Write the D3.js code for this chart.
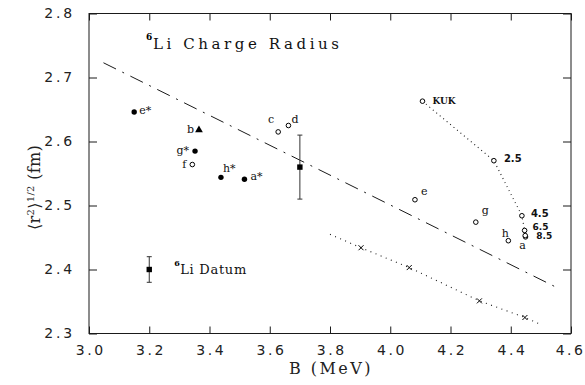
<!DOCTYPE html>
<html>
<head>
<meta charset="utf-8">
<script src="https://cdn.jsdelivr.net/npm/d3@7"></script>
<style>
  body { margin: 0; background: #fff; }
</style>
</head>
<body>
<div id="chart"></div>
<script>
// starred fits (filled circles)
const filledNames = ["e*", "g*", "h*", "a*"];
const filledB = [3.15, 3.352, 3.438, 3.516];
const filledR = [2.646, 2.585, 2.544, 2.541];

// filled triangle
const triNames = ["b"];
const triB = [3.365];
const triR = [2.618];

// open circles
const openNames = ["f", "c", "d", "e", "g", "h", "a"];
const openB = [3.343, 3.628, 3.662, 4.082, 4.284, 4.392, 4.449];
const openR = [2.564, 2.615, 2.625, 2.509, 2.474, 2.445, 2.451];

// KUK sequence (dotted)
const kukNames = ["KUK", "2.5", "4.5", "6.5", "8.5"];
const kukB = [4.107, 4.344, 4.437, 4.446, 4.448];
const kukR = [2.663, 2.570, 2.484, 2.461, 2.453];

// crosses and their dotted line
const crossB = [3.903, 4.063, 4.296, 4.447];
const crossR = [2.434, 2.403, 2.351, 2.325];
const crossLineB = [3.80, 3.903, 4.063, 4.296, 4.447, 4.50];
const crossLineR = [2.455, 2.434, 2.403, 2.351, 2.325, 2.314];

// dash-dot line
const fitB = [3.048, 4.552];
const fitR = [2.723, 2.372];

// 6Li datum and legend sample
const datumB = 3.70, datumR = 2.56, datumErr = 0.05;
const legendB = 3.20, legendR = 2.40, legendErr = 0.02;

const xTicks = [3.0, 3.2, 3.4, 3.6, 3.8, 4.0, 4.2, 4.4, 4.6];
const yTicks = [2.3, 2.4, 2.5, 2.6, 2.7, 2.8];

const svgWidth = 585, svgHeight = 385;
const margin = { top: 13.5, right: 14, bottom: 51.5, left: 89 };
const width = svgWidth - margin.left - margin.right;
const height = svgHeight - margin.top - margin.bottom;

// label placement: [dx, dy, anchor]
const labelPos = {
    "e*": [5, 2, "start"], "g*": [-6, 3, "end"], "h*": [2, -5, "start"], "a*": [6, 1, "start"],
    "b": [-5, 3, "end"], "f": [-6, 3, "end"], "c": [-7, -9, "middle"], "d": [3, -3, "start"],
    "e": [6, -5, "start"], "g": [6, -8, "start"], "h": [-3, -4, "middle"], "a": [-3, 12, "middle"],
    "KUK": [10, 3, "start"], "2.5": [10, 1, "start"], "4.5": [9, 1, "start"],
    "6.5": [8, -0.5, "start"], "8.5": [11, 3.5, "start"]
};

const x = d3.scaleLinear().domain([3.0, 4.6]).range([0, width]);
const y = d3.scaleLinear().domain([2.3, 2.8]).range([height, 0]);

const svg = d3.select("#chart")
    .append("svg")
    .attr("width", svgWidth)
    .attr("height", svgHeight)
    .append("g")
    .attr("transform", `translate(${margin.left},${margin.top})`);

const ink = "#1a1a1a";

// inner ticks on all four sides
svg.append("g")
    .attr("transform", `translate(0,${height})`)
    .call(d3.axisBottom(x).tickValues(xTicks).tickSizeInner(-7).tickSizeOuter(0).tickPadding(12)
        .tickFormat(d3.format(".1f")))
    .call(g => g.select(".domain").remove())
    .call(g => g.selectAll("line").attr("stroke", ink))
    .call(g => g.selectAll("text")
        .style("font-family", "DejaVu Sans").style("font-size", "14px")
        .style("letter-spacing", "2.5px").attr("fill", "#222")
        .attr("dx", (d, i) => i === xTicks.length - 1 ? "-1px" : "1.2px"));

svg.append("g")
    .call(d3.axisLeft(y).tickValues(yTicks).tickSizeInner(-8).tickSizeOuter(0).tickPadding(14)
        .tickFormat(d3.format(".1f")))
    .call(g => g.select(".domain").remove())
    .call(g => g.selectAll("line").attr("stroke", ink))
    .call(g => g.selectAll("text")
        .style("font-family", "DejaVu Sans").style("font-size", "14px")
        .style("letter-spacing", "2.8px").attr("fill", "#222"));

svg.append("g")
    .call(d3.axisTop(x).tickValues(xTicks).tickSizeInner(-7).tickSizeOuter(0).tickFormat(""))
    .call(g => g.select(".domain").remove())
    .call(g => g.selectAll("line").attr("stroke", ink));

svg.append("g")
    .attr("transform", `translate(${width},0)`)
    .call(d3.axisRight(y).tickValues(yTicks).tickSizeInner(-8).tickSizeOuter(0).tickFormat(""))
    .call(g => g.select(".domain").remove())
    .call(g => g.selectAll("line").attr("stroke", ink));

svg.append("rect")
    .attr("width", width)
    .attr("height", height)
    .attr("fill", "none")
    .attr("stroke", ink)
    .attr("stroke-width", 1);

// axis titles
svg.append("text")
    .attr("x", width / 2 + 1)
    .attr("y", height + 40)
    .attr("text-anchor", "middle")
    .style("font-family", "DejaVu Serif")
    .style("font-size", "16px")
    .style("letter-spacing", "2.5px")
    .attr("fill", "#222")
    .text("B (MeV)");

const yTitle = svg.append("text")
    .attr("transform", `translate(${-margin.left + 40},${height / 2 + 14}) rotate(-90)`)
    .attr("text-anchor", "middle")
    .style("font-family", "DejaVu Serif")
    .style("font-size", "16px")
    .style("letter-spacing", "0.3px")
    .attr("fill", "#222");
yTitle.append("tspan").text("\u27E8r");
yTitle.append("tspan").attr("dy", -6).style("font-size", "10px").text("2");
yTitle.append("tspan").attr("dy", 6).text("\u27E9");
yTitle.append("tspan").attr("dy", -6).style("font-size", "10px").text("1/2");
yTitle.append("tspan").attr("dy", 6).text(" (fm)");

// chart title
svg.append("text")
    .attr("x", 57)
    .attr("y", 26)
    .style("font-family", "DejaVu Serif")
    .style("font-size", "9px")
    .style("font-weight", "bold")
    .text("6");
svg.append("text")
    .attr("x", 64)
    .attr("y", 35)
    .attr("textLength", 186)
    .attr("lengthAdjust", "spacing")
    .style("font-family", "DejaVu Serif")
    .style("font-size", "15px")
    .attr("fill", "#111")
    .text("Li Charge Radius");

// dash-dot line
const line = d3.line().x(d => x(d[0])).y(d => y(d[1]));
svg.append("path")
    .datum(fitB.map((b, i) => [b, fitR[i]]))
    .attr("d", line)
    .attr("fill", "none")
    .attr("stroke", ink)
    .attr("stroke-width", 1)
    .attr("stroke-dasharray", "14,7,2,7");

// dotted lines
svg.append("path")
    .datum(kukB.map((b, i) => [b, kukR[i]]))
    .attr("d", line)
    .attr("fill", "none")
    .attr("stroke", ink)
    .attr("stroke-width", 1.1)
    .attr("stroke-dasharray", "1,3.5");

svg.append("path")
    .datum(crossLineB.map((b, i) => [b, crossLineR[i]]))
    .attr("d", line)
    .attr("fill", "none")
    .attr("stroke", ink)
    .attr("stroke-width", 1.1)
    .attr("stroke-dasharray", "1,4.5");

function addLabel(name, px, py, font, size, weight) {
    const p = labelPos[name];
    svg.append("text")
        .attr("x", px + p[0])
        .attr("y", py + p[1])
        .attr("text-anchor", p[2])
        .style("font-family", font)
        .style("font-size", size)
        .style("font-weight", weight || "normal")
        .attr("fill", "#111")
        .text(name);
}

// filled circles
filledB.forEach((b, i) => {
    svg.append("circle")
        .attr("cx", x(b)).attr("cy", y(filledR[i])).attr("r", 2.7)
        .attr("fill", "#000");
    addLabel(filledNames[i], x(b), y(filledR[i]), "DejaVu Serif", "11px");
});

// triangle
triB.forEach((b, i) => {
    svg.append("path")
        .attr("transform", `translate(${x(b)},${y(triR[i])})`)
        .attr("d", d3.symbol(d3.symbolTriangle, 26)())
        .attr("fill", "#000");
    addLabel(triNames[i], x(b), y(triR[i]), "DejaVu Serif", "11px");
});

// open circles
openB.forEach((b, i) => {
    svg.append("circle")
        .attr("cx", x(b)).attr("cy", y(openR[i])).attr("r", 2.3)
        .attr("fill", "#fff").attr("stroke", "#000").attr("stroke-width", 1);
    addLabel(openNames[i], x(b), y(openR[i]), "DejaVu Serif", "11px");
});

kukB.forEach((b, i) => {
    svg.append("circle")
        .attr("cx", x(b)).attr("cy", y(kukR[i])).attr("r", 2.3)
        .attr("fill", "#fff").attr("stroke", "#000").attr("stroke-width", 1);
    addLabel(kukNames[i], x(b), y(kukR[i]),
        i === 0 ? "DejaVu Serif" : "DejaVu Sans", i === 0 ? "9px" : (i > 2 ? "9px" : "10px"), "bold");
});

// crosses
crossB.forEach((b, i) => {
    svg.append("path")
        .attr("transform", `translate(${x(b)},${y(crossR[i])})`)
        .attr("d", "M-2.5,-2.5L2.5,2.5M-2.5,2.5L2.5,-2.5")
        .attr("stroke", "#000")
        .attr("stroke-width", 1);
});

// datum with error bar
function errPoint(b, r, err) {
    const g = svg.append("g").attr("stroke", "#333").attr("stroke-width", 1);
    g.append("line").attr("x1", x(b)).attr("x2", x(b)).attr("y1", y(r + err)).attr("y2", y(r - err));
    g.append("line").attr("x1", x(b) - 2.5).attr("x2", x(b) + 2.5).attr("y1", y(r + err)).attr("y2", y(r + err));
    g.append("line").attr("x1", x(b) - 2.5).attr("x2", x(b) + 2.5).attr("y1", y(r - err)).attr("y2", y(r - err));
    svg.append("rect")
        .attr("x", x(b) - 2.7).attr("y", y(r) - 2.7)
        .attr("width", 5.4).attr("height", 5.4)
        .attr("fill", "#000");
}
errPoint(datumB, datumR, datumErr);
errPoint(legendB, legendR, legendErr);

// legend text
svg.append("text")
    .attr("x", x(legendB) + 25)
    .attr("y", y(legendR) - 4)
    .style("font-family", "DejaVu Serif")
    .style("font-size", "8px")
    .style("font-weight", "bold")
    .text("6");
svg.append("text")
    .attr("x", x(legendB) + 31)
    .attr("y", y(legendR) + 4.5)
    .attr("textLength", 66)
    .attr("lengthAdjust", "spacing")
    .style("font-family", "DejaVu Serif")
    .style("font-size", "13px")
    .attr("fill", "#111")
    .text("Li Datum");
</script>
</body>
</html>
